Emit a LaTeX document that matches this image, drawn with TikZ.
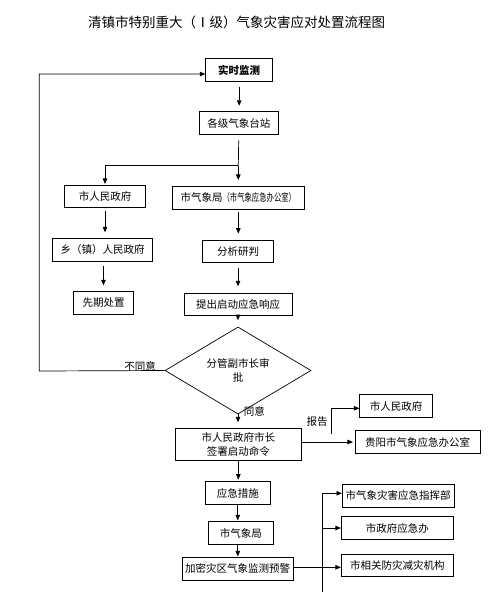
\documentclass[tikz,border=0pt]{standalone}
\usepackage{fontspec}
\usetikzlibrary{arrows.meta,shapes.geometric}
\newfontfamily\cjk{Noto Sans CJK SC}
\begin{document}
\begin{tikzpicture}[x=1pt,y=-1pt,
  box/.style={draw,line width=0.7pt,inner sep=0pt,font=\cjk\fontsize{10.5}{14.4}\selectfont,align=center},
  conn/.style={line width=0.7pt,-{Triangle[length=5.5pt,width=4.5pt]}},
  plain/.style={line width=0.7pt},
  lbl/.style={font=\cjk\fontsize{10.5}{12}\selectfont,inner sep=0pt}]
\useasboundingbox (0,0) rectangle (495,592);

\node[font=\cjk\fontsize{13.5}{16}\selectfont,inner sep=0pt] (title) at (236.5,22) {清镇市特别重大（Ⅰ级）气象灾害应对处置流程图};

\node[box,minimum width=67pt,minimum height=23.4pt] (jc) at (239.2,70) {\bfseries 实时监测};
\node[box,minimum width=79pt,minimum height=22.6pt] (tz) at (238.8,123) {各级气象台站};
\node[box,minimum width=81.4pt,minimum height=22.4pt] (gov1) at (105,196.5) {市人民政府};
\node[box,minimum width=132pt,minimum height=23pt] (qxj1) at (238.3,197.8) {市气象局\scalebox{0.7}[1]{（市气象应急办公室）}};
\node[box,minimum width=100.4pt,minimum height=23.4pt] (xz) at (102.5,250) {乡（镇）人民政府};
\node[box,minimum width=60.4pt,minimum height=23pt] (xq) at (103.5,302.5) {先期处置};
\node[box,minimum width=71.4pt,minimum height=22.7pt] (fx) at (238,251.3) {分析研判};
\node[box,minimum width=108pt,minimum height=22.4pt] (tc) at (238,304.5) {提出启动应急响应};
\node[box,diamond,minimum width=146pt,minimum height=59.3pt] (dm) at (238,370.5) {分管副市长审\\批};
\node[box,minimum width=126.7pt,minimum height=32.4pt] (mz) at (238.3,444.5) {市人民政府市长\\签署启动命令};
\node[box,minimum width=125pt,minimum height=22.6pt] (gy) at (417.5,442) {贵阳市气象应急办公室};
\node[box,minimum width=73pt,minimum height=22.6pt] (gov2) at (396.2,406) {市人民政府};
\node[box,minimum width=64.3pt,minimum height=22.6pt] (yj) at (237.8,493) {应急措施};
\node[box,minimum width=65pt,minimum height=22.6pt] (qxj2) at (240.8,533) {市气象局};
\node[box,minimum width=111.3pt,minimum height=22.7pt] (jm) at (237.7,568.7) {加密灾区气象监测预警};
\node[box,minimum width=111.7pt,minimum height=23pt] (zh) at (398.2,495.8) {市气象灾害应急指挥部};
\node[box,minimum width=112pt,minimum height=22.6pt] (yjb) at (397.3,528) {市政府应急办};
\node[box,minimum width=112pt,minimum height=22.7pt] (fz) at (397.3,565.3) {市相关防灾减灾机构};

\node[lbl] (bty) at (140,366.7) {不同意};
\node[lbl] (ty) at (254.3,411.7) {同意};
\node[lbl] (bg) at (317,421.7) {报告};

% connectors
\draw[conn,shorten <=5pt,shorten >=5.6pt] (jc.south) -- (jc.south |- tz.north);
\coordinate (br) at (238.3,165.7);
\draw[plain,shorten <=5.7pt] (tz.south) -- (br);
\draw[conn,shorten >=6pt] (br) -- (qxj1.north);
\draw[conn,shorten >=1pt] (br) -| (gov1.north);
\draw[conn,shorten <=3pt,shorten >=5.6pt] (gov1.south) -- (gov1.south |- xz.north);
\draw[conn,shorten <=4.3pt,shorten >=5.3pt] ([xshift=1pt]xz.south) -- ([xshift=1pt]xz.south |- xq.north);
\draw[conn,shorten <=2.7pt,shorten >=6pt] (qxj1.south) -- (qxj1.south |- fx.north);
\draw[conn,shorten <=5pt,shorten >=6.6pt] (fx.south) -- (fx.south |- tc.north);
\draw[conn,shorten >=6.4pt] (tc.south) -- (dm.north);
\draw[conn,shorten >=5.6pt] (dm.south) -- (dm.south |- mz.north);
\draw[conn,shorten >=1.7pt] (mz.south) -- (mz.south |- yj.north);
\draw[conn,shorten >=1pt] (yj.south) -- (yj.south |- qxj2.north);
\draw[conn,shorten >=0.6pt] ([xshift=-3pt]qxj2.south) -- ([xshift=-3pt]qxj2.south |- jm.north);

% feedback
\coordinate (fb) at (39.3,371);
\draw[conn] (dm.west) -- (fb) |- ([yshift=-4pt]jc.west);

% report branch
\draw[conn,shorten >=1.7pt] (mz.east |- gy.west) -- (gy.west);
\coordinate (b1) at (331,434);
\draw[conn] (b1) |- ([yshift=-2.3pt]gov2.west);

% bottom distribution
\draw[conn] ([yshift=1.4pt]jm.east) -- ([yshift=1.4pt]jm.east -| fz.west);
\coordinate (vt) at (322,493.3);
\coordinate (vb) at (322,592);
\draw[plain] (vt) -- (vb);
\draw[conn] (vt) -- (vt -| zh.west);
\draw[conn] (vt |- yjb.west) -- (yjb.west);
\end{tikzpicture}
\end{document}
